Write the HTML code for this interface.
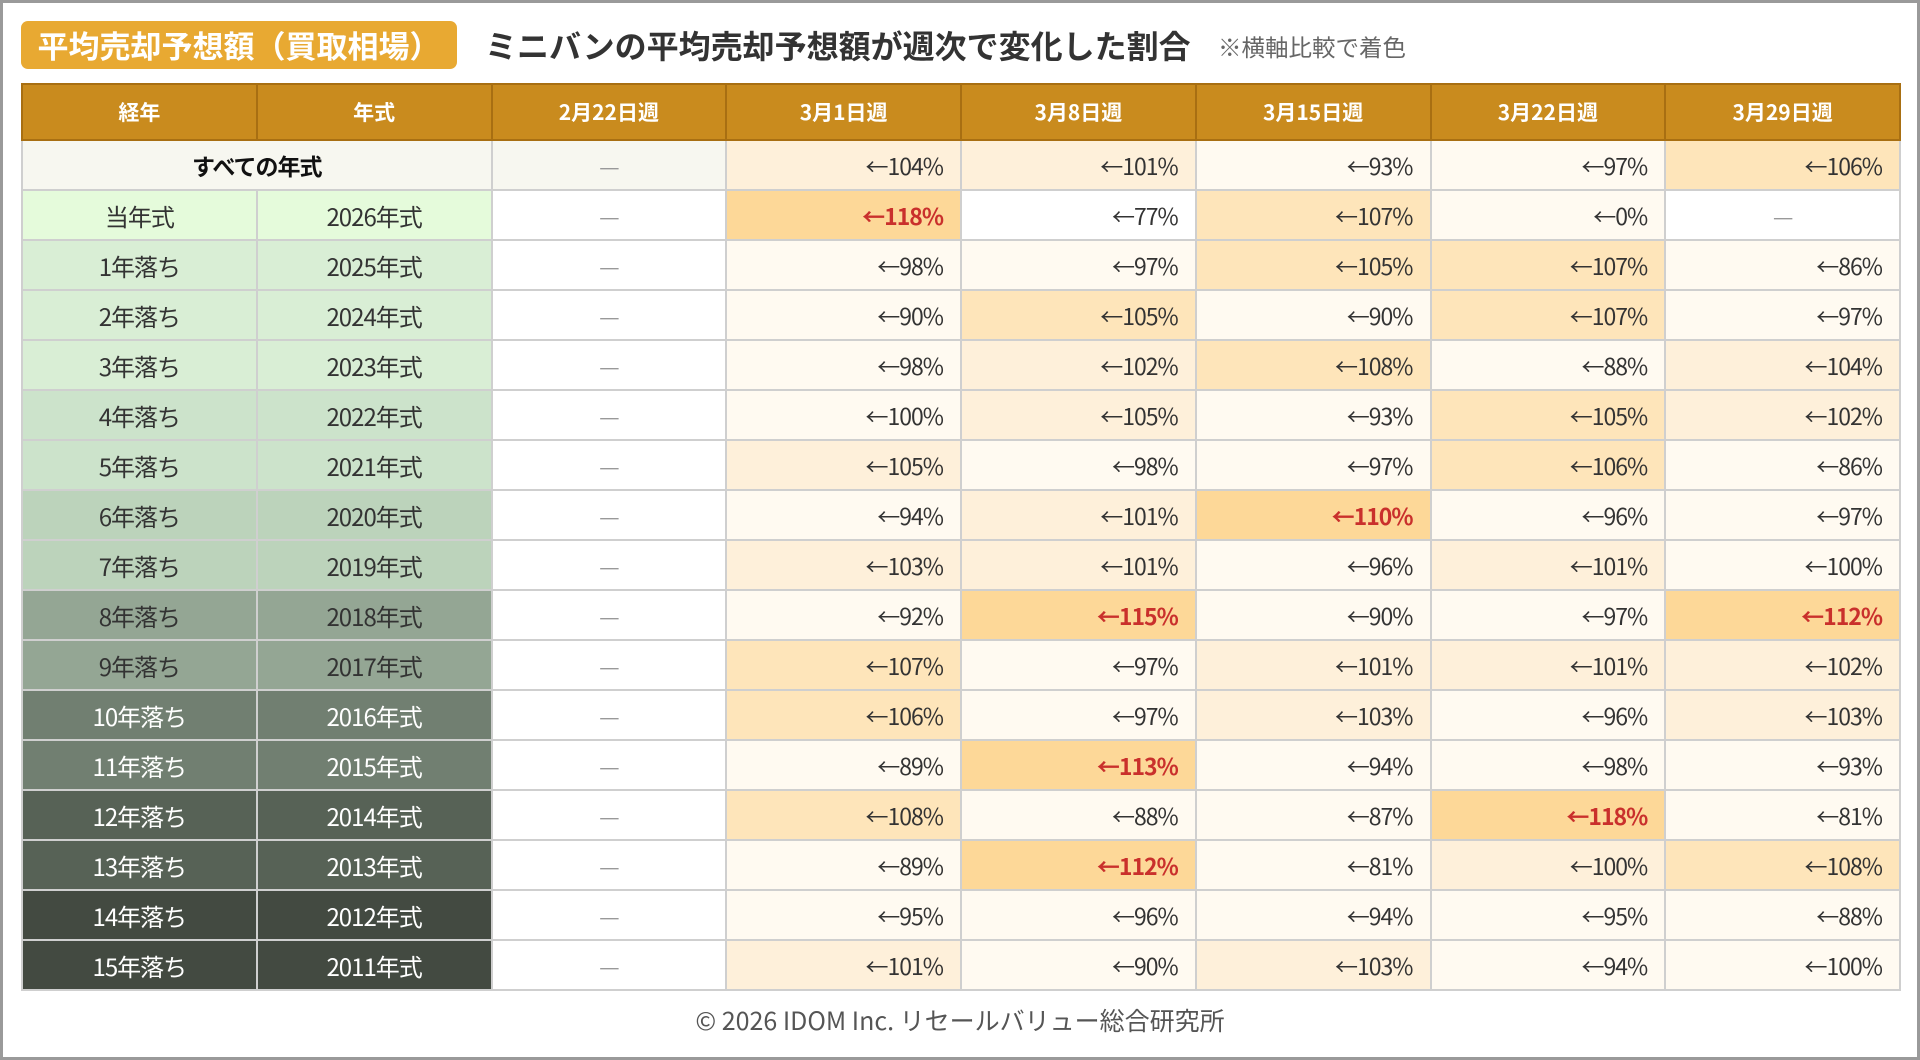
<!DOCTYPE html>
<html><head><meta charset="utf-8">
<style>
html,body{margin:0;padding:0;}
body{width:1920px;height:1060px;position:relative;background:#fff;font-family:"Liberation Sans","Noto Sans CJK JP",sans-serif;overflow:hidden;}
.frame{position:absolute;left:0;top:0;width:1914px;height:1054px;border:3px solid #9a9a9a;}
.badge{position:absolute;left:21px;top:21px;width:436px;height:48px;background:#E8A932;border-radius:7px;color:#fff;font-weight:bold;font-size:31px;line-height:48px;text-align:center;font-family:"Noto Sans CJK JP",sans-serif;}
.title{position:absolute;left:485px;top:24px;font-size:32px;font-weight:bold;color:#333;line-height:42px;font-family:"Noto Sans CJK JP",sans-serif;}
.note{position:absolute;left:1218px;top:30px;font-size:23.5px;color:#666;line-height:32px;font-family:"Noto Sans CJK JP",sans-serif;}
table{position:absolute;left:21px;top:83px;width:1878px;border-collapse:collapse;table-layout:fixed;font-family:"Noto Sans CJK JP",sans-serif;}
th{background:#C98B1E;color:#fff;font-size:21px;font-weight:bold;height:54px;border:2px solid #A86F12;padding:0;}
td{height:48px;border:2px solid #cfcfcf;padding:0;font-size:23px;color:#333;letter-spacing:-1px;}
td.a,td.y{text-align:center;font-size:24px;}
td.d{text-align:center;color:#999;background:#fff;}
td.v{text-align:right;padding-right:17px;}
.L1{background:#FFFAF1;}
.L2{background:#FEF0DA;}
.L3{background:#FEE5BA;}
.L4{background:#FDD898;color:#C9302C;font-weight:bold;}
.W{background:#fff;}
.g0{background:#E5FBDB;}
.g1{background:#D9EED5;}
.g2{background:#CCE3CB;}
.g3{background:#BCD3BB;}
.g4{background:#94A694;}
.g5{background:#717F71;color:#fff;}
.g6{background:#576256;color:#fff;}
.g7{background:#434A41;color:#fff;}
.foot{position:absolute;left:0;width:1920px;top:1002px;text-align:center;font-size:25px;color:#555;font-family:"Noto Sans CJK JP",sans-serif;}
</style></head><body>
<div class="frame"></div>
<div class="badge">平均売却予想額（買取相場）</div>
<div class="title">ミニバンの平均売却予想額が週次で変化した割合</div>
<div class="note">※横軸比較で着色</div>
<table>
<colgroup><col span="8" style="width:234.75px"></colgroup>
<tr><th>経年</th><th>年式</th><th>2月22日週</th><th>3月1日週</th><th>3月8日週</th><th>3月15日週</th><th>3月22日週</th><th>3月29日週</th></tr>
<tr><td class="a" colspan="2" style="background:#F7F7F0;font-weight:bold;color:#111;font-size:23px;">すべての年式</td><td class="d" style="background:#F7F7F0">—</td><td class="v L2">←104%</td><td class="v L2">←101%</td><td class="v L1">←93%</td><td class="v L1">←97%</td><td class="v L3">←106%</td></tr>
<tr><td class="a g0">当年式</td><td class="y g0">2026年式</td><td class="d">—</td><td class="v L4">←118%</td><td class="v W">←77%</td><td class="v L3">←107%</td><td class="v L1">←0%</td><td class="d">—</td></tr>
<tr><td class="a g1">1年落ち</td><td class="y g1">2025年式</td><td class="d">—</td><td class="v L1">←98%</td><td class="v L1">←97%</td><td class="v L3">←105%</td><td class="v L3">←107%</td><td class="v L1">←86%</td></tr>
<tr><td class="a g1">2年落ち</td><td class="y g1">2024年式</td><td class="d">—</td><td class="v L1">←90%</td><td class="v L3">←105%</td><td class="v L1">←90%</td><td class="v L3">←107%</td><td class="v L1">←97%</td></tr>
<tr><td class="a g1">3年落ち</td><td class="y g1">2023年式</td><td class="d">—</td><td class="v L1">←98%</td><td class="v L2">←102%</td><td class="v L3">←108%</td><td class="v L1">←88%</td><td class="v L2">←104%</td></tr>
<tr><td class="a g2">4年落ち</td><td class="y g2">2022年式</td><td class="d">—</td><td class="v L1">←100%</td><td class="v L2">←105%</td><td class="v L1">←93%</td><td class="v L3">←105%</td><td class="v L2">←102%</td></tr>
<tr><td class="a g2">5年落ち</td><td class="y g2">2021年式</td><td class="d">—</td><td class="v L2">←105%</td><td class="v L1">←98%</td><td class="v L1">←97%</td><td class="v L3">←106%</td><td class="v L1">←86%</td></tr>
<tr><td class="a g3">6年落ち</td><td class="y g3">2020年式</td><td class="d">—</td><td class="v L1">←94%</td><td class="v L2">←101%</td><td class="v L4">←110%</td><td class="v L1">←96%</td><td class="v L1">←97%</td></tr>
<tr><td class="a g3">7年落ち</td><td class="y g3">2019年式</td><td class="d">—</td><td class="v L2">←103%</td><td class="v L2">←101%</td><td class="v L1">←96%</td><td class="v L2">←101%</td><td class="v L1">←100%</td></tr>
<tr><td class="a g4">8年落ち</td><td class="y g4">2018年式</td><td class="d">—</td><td class="v L1">←92%</td><td class="v L4">←115%</td><td class="v L1">←90%</td><td class="v L1">←97%</td><td class="v L4">←112%</td></tr>
<tr><td class="a g4">9年落ち</td><td class="y g4">2017年式</td><td class="d">—</td><td class="v L3">←107%</td><td class="v L1">←97%</td><td class="v L2">←101%</td><td class="v L2">←101%</td><td class="v L2">←102%</td></tr>
<tr><td class="a g5">10年落ち</td><td class="y g5">2016年式</td><td class="d">—</td><td class="v L3">←106%</td><td class="v L1">←97%</td><td class="v L2">←103%</td><td class="v L1">←96%</td><td class="v L2">←103%</td></tr>
<tr><td class="a g5">11年落ち</td><td class="y g5">2015年式</td><td class="d">—</td><td class="v L1">←89%</td><td class="v L4">←113%</td><td class="v L1">←94%</td><td class="v L1">←98%</td><td class="v L1">←93%</td></tr>
<tr><td class="a g6">12年落ち</td><td class="y g6">2014年式</td><td class="d">—</td><td class="v L3">←108%</td><td class="v L1">←88%</td><td class="v L1">←87%</td><td class="v L4">←118%</td><td class="v L1">←81%</td></tr>
<tr><td class="a g6">13年落ち</td><td class="y g6">2013年式</td><td class="d">—</td><td class="v L1">←89%</td><td class="v L4">←112%</td><td class="v L1">←81%</td><td class="v L2">←100%</td><td class="v L3">←108%</td></tr>
<tr><td class="a g7">14年落ち</td><td class="y g7">2012年式</td><td class="d">—</td><td class="v L1">←95%</td><td class="v L1">←96%</td><td class="v L1">←94%</td><td class="v L1">←95%</td><td class="v L1">←88%</td></tr>
<tr><td class="a g7">15年落ち</td><td class="y g7">2011年式</td><td class="d">—</td><td class="v L2">←101%</td><td class="v L1">←90%</td><td class="v L2">←103%</td><td class="v L1">←94%</td><td class="v L1">←100%</td></tr>
</table>
<div class="foot">© 2026 IDOM Inc. リセールバリュー総合研究所</div>
</body></html>
